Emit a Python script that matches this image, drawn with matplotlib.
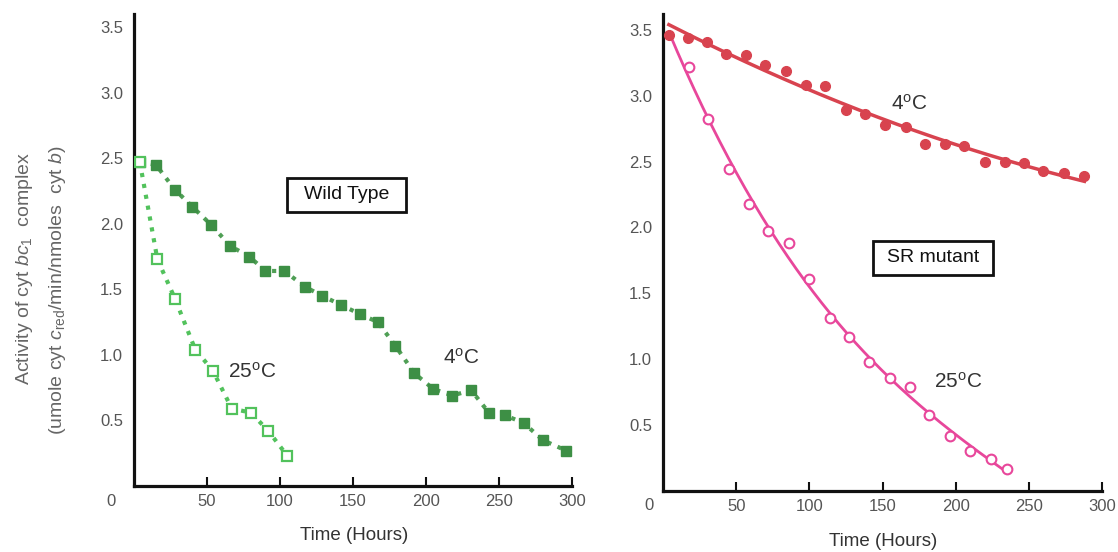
import numpy as np
import matplotlib
matplotlib.use("Agg")
import matplotlib.pyplot as plt
from matplotlib.patches import Rectangle

plt.rcParams['font.family'] = ['Liberation Sans', 'DejaVu Sans']
plt.rcParams['mathtext.fontset'] = 'custom'
plt.rcParams['mathtext.rm'] = 'Liberation Sans'
plt.rcParams['mathtext.it'] = 'Liberation Sans:italic'

# ---- Data: Wild Type ----
wt4_x = [4, 15, 28, 40, 53, 66, 79, 90, 103, 117, 129, 142, 155, 167, 179,
         192, 205, 218, 231, 243, 254, 267, 280, 296]
wt4_y = [2.47, 2.45, 2.26, 2.13, 1.99, 1.83, 1.75, 1.64, 1.64, 1.52, 1.45, 1.38,
         1.31, 1.25, 1.07, 0.86, 0.74, 0.69, 0.73, 0.56, 0.54, 0.48, 0.35, 0.27]
wt25_x = [4, 16, 28, 42, 54, 67, 80, 92, 105]
wt25_y = [2.47, 1.73, 1.43, 1.04, 0.88, 0.59, 0.56, 0.42, 0.23]

# ---- Data: SR mutant ----
sr4_x = [4, 17, 30, 43, 57, 70, 84, 98, 111, 125, 138, 152, 166, 179, 193,
         206, 220, 234, 247, 260, 274, 288]
sr4_y = [3.46, 3.44, 3.41, 3.32, 3.31, 3.23, 3.19, 3.08, 3.07, 2.89, 2.86, 2.78,
         2.76, 2.63, 2.63, 2.62, 2.50, 2.50, 2.49, 2.43, 2.41, 2.39]
sr25_x = [4, 18, 31, 45, 59, 72, 86, 100, 114, 127, 141, 155, 169, 182, 196,
          210, 224, 235]
sr25_y = [3.46, 3.22, 2.82, 2.44, 2.18, 1.97, 1.88, 1.61, 1.31, 1.17, 0.98,
          0.86, 0.79, 0.58, 0.42, 0.30, 0.24, 0.17]

x_ticks = [50, 100, 150, 200, 250, 300]
y_ticks = [0.5, 1.0, 1.5, 2.0, 2.5, 3.0, 3.5]

c_wt4 = '#3d8f45'
c_wt4_line = '#4f9f55'
c_wt25 = '#52c25c'
c_sr4 = '#d8434f'
c_sr25 = '#e8479b'
tick_color = '#555555'
label_color = '#333333'

fig = plt.figure(figsize=(11.18, 5.52), dpi=100)
axL = fig.add_axes([134 / 1118, 66 / 552, 438 / 1118, 472 / 552])
axR = fig.add_axes([663 / 1118, 61 / 552, 439 / 1118, 477 / 552])


def style(ax, ytop, zero_off):
    ax.set_xlim(0, 300)
    ax.set_ylim(0, ytop)
    for s in ['top', 'right']:
        ax.spines[s].set_visible(False)
    for s in ['left', 'bottom']:
        ax.spines[s].set_linewidth(2.3)
        ax.spines[s].set_color('#111111')
    ax.set_xticks(x_ticks)
    ax.set_xticklabels([str(v) for v in x_ticks])
    ax.set_yticks(y_ticks)
    ax.set_yticklabels([f'{v:.1f}' for v in y_ticks])
    ax.tick_params(axis='x', direction='in', length=6.5, width=1.5,
                   color='#111111', labelsize=12, labelcolor=tick_color, pad=6)
    ax.tick_params(axis='y', length=0, labelsize=12, labelcolor=tick_color, pad=8)
    ax.annotate('0', xy=(0, 0), xycoords='data', xytext=zero_off,
                textcoords='offset points', ha='center', va='center',
                fontsize=12, color=tick_color, annotation_clip=False)


def boxed(ax, x, y, w, h, txt):
    ax.add_patch(Rectangle((x - w / 2, y - h / 2), w, h, fill=True, fc='white',
                           ec='#111111', lw=2.0, zorder=4))
    ax.text(x, y, txt, fontsize=14, color='#111111', ha='center', va='center',
            zorder=5)


style(axL, 3.60, (-16.5, -11))
style(axR, 3.62, (-10.3, -10.6))

fig.text(354 / 1118, 1 - 535 / 552, 'Time (Hours)', fontsize=13.5,
         color=label_color, ha='center', va='center')
fig.text(883 / 1118, 1 - 541 / 552, 'Time (Hours)', fontsize=13.5,
         color=label_color, ha='center', va='center')

# Left panel: Wild Type
axL.plot(wt4_x, wt4_y, linestyle=':', color=c_wt4_line, lw=3.0, zorder=2)
axL.plot(wt4_x, wt4_y, linestyle='none', marker='s', ms=7.5, color=c_wt4,
         mec=c_wt4, zorder=3)
axL.plot(wt25_x, wt25_y, linestyle=':', color=c_wt25, lw=3.0, zorder=2)
axL.plot(wt25_x, wt25_y, linestyle='none', marker='s', ms=7, mfc='white',
         mec=c_wt25, mew=1.6, zorder=3)

axL.text(81, 0.87, r'25$^{\mathrm{o}}$C', fontsize=15, color=label_color,
         ha='center', va='center')
axL.text(224, 0.98, r'4$^{\mathrm{o}}$C', fontsize=15, color=label_color,
         ha='center', va='center')
boxed(axL, 145.5, 2.22, 81, 0.254, 'Wild Type')

fig.text(25 / 1118, 1 - 268 / 552,
         'Activity of cyt $\\mathit{bc}_{1}$  complex',
         rotation=90, fontsize=14, color='#666666', ha='center', va='center')
fig.text(58 / 1118, 1 - 290 / 552,
         '(umole cyt $\\mathit{c}_{\\mathrm{red}}$/min/nmoles  cyt $\\mathit{b}$)',
         rotation=90, fontsize=14, color='#666666', ha='center', va='center')

# Right panel: SR mutant with smooth fitted curves
p4 = np.polyfit(sr4_x, sr4_y, 2)
xx4 = np.linspace(sr4_x[0], sr4_x[-1], 200)
axR.plot(xx4, np.polyval(p4, xx4), color=c_sr4, lw=2.5, zorder=2)
axR.plot(sr4_x, sr4_y, linestyle='none', marker='o', ms=7, color=c_sr4,
         mec=c_sr4, zorder=3)

p25 = np.polyfit(sr25_x, sr25_y, 3)
xx25 = np.linspace(sr25_x[0], sr25_x[-1], 200)
axR.plot(xx25, np.polyval(p25, xx25), color=c_sr25, lw=2.0, zorder=2)
axR.plot(sr25_x[1:], sr25_y[1:], linestyle='none', marker='o', ms=7,
         mfc='white', mec=c_sr25, mew=1.5, zorder=3)

axR.text(168, 2.94, r'4$^{\mathrm{o}}$C', fontsize=15, color=label_color,
         ha='center', va='center')
axR.text(202, 0.83, r'25$^{\mathrm{o}}$C', fontsize=15, color=label_color,
         ha='center', va='center')
boxed(axR, 184.3, 1.77, 82, 0.254, 'SR mutant')

fig.savefig('out.png', dpi=100)
